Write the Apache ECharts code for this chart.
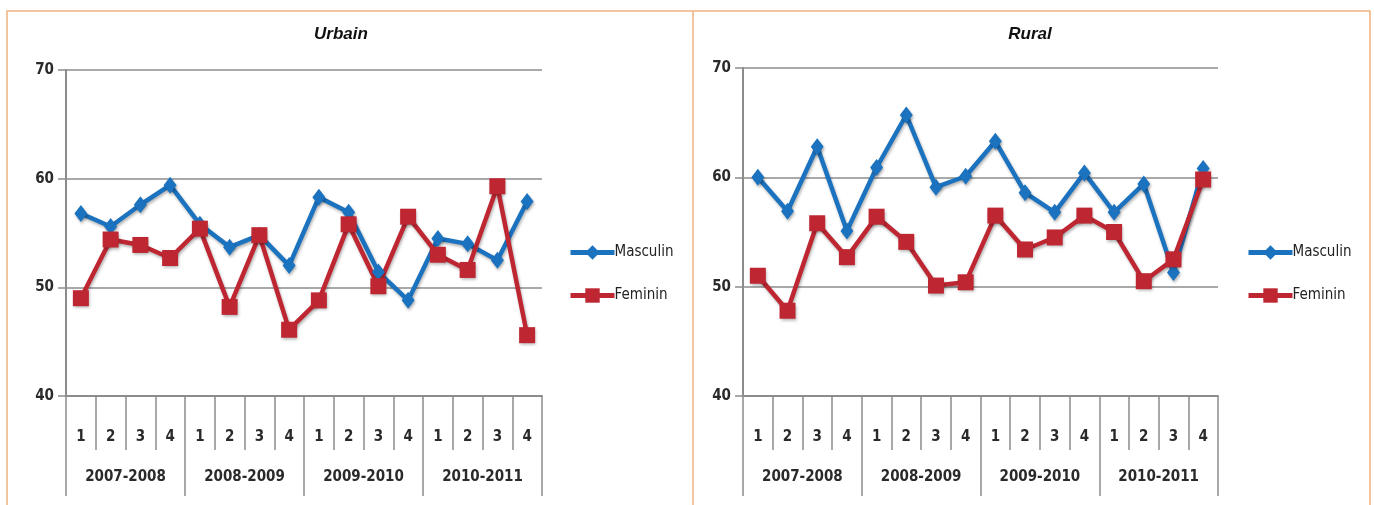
<!doctype html>
<html lang="fr">
<head>
    <meta charset="UTF-8">
    <title>Urbain / Rural</title>
    <style>
        html, body { margin: 0; padding: 0; background: #fff; }
        #chart { width: 1374px; height: 505px; }
    </style>
</head>
<body>
    <div id="chart"></div>

    <script src="https://cdn.jsdelivr.net/npm/echarts@6/dist/echarts.min.js"></script>
    <script>
        // data
        var quarters = ['1', '2', '3', '4', '1', '2', '3', '4', '1', '2', '3', '4', '1', '2', '3', '4'];
        var years = ['2007-2008', '2008-2009', '2009-2010', '2010-2011'];

        var urbainMasculin = [56.8, 55.6, 57.6, 59.4, 55.8, 53.7, 54.8, 52.0, 58.3, 56.9, 51.4, 48.8, 54.5, 54.0, 52.5, 57.9];
        var urbainFeminin  = [49.0, 54.4, 53.9, 52.7, 55.4, 48.2, 54.8, 46.1, 48.8, 55.8, 50.1, 56.5, 53.0, 51.6, 59.3, 45.6];

        var ruralMasculin = [60.0, 56.9, 62.8, 55.1, 60.9, 65.7, 59.1, 60.1, 63.3, 58.6, 56.8, 60.4, 56.8, 59.4, 51.3, 60.8];
        var ruralFeminin  = [51.0, 47.8, 55.8, 52.7, 56.4, 54.1, 50.1, 50.4, 56.5, 53.4, 54.5, 56.5, 55.0, 50.5, 52.5, 59.8];

        var blue = '#1b72bf';
        var red = '#be2632';
        var gray = '#8c8c8c';
        var labelFont = "'DejaVu Sans Condensed', 'Liberation Sans', sans-serif";

        var chart = echarts.init(document.getElementById('chart'));

        function qAxis(grid) {
            return {
                type: 'category', gridIndex: grid, data: quarters, position: 'bottom',
                axisLine: { show: true, lineStyle: { color: gray, width: 2 } },
                axisTick: { show: true, alignWithLabel: false, interval: 0, length: 54, lineStyle: { color: gray, width: 1.5 } },
                axisLabel: { interval: 0, margin: 34, fontSize: 15, fontWeight: 'bold', color: '#2a2a2a', fontFamily: labelFont }
            };
        }
        function yearAxis(grid) {
            return {
                type: 'category', gridIndex: grid, data: years, position: 'bottom',
                axisLine: { show: false },
                axisTick: { show: true, alignWithLabel: false, interval: 0, length: 100, lineStyle: { color: gray, width: 1.5 } },
                axisLabel: { interval: 0, margin: 74, fontSize: 15, fontWeight: 'bold', color: '#2a2a2a', fontFamily: labelFont }
            };
        }
        function valAxis(grid) {
            return {
                type: 'value', gridIndex: grid, min: 40, max: 70, interval: 10,
                axisLine: { show: true, lineStyle: { color: gray, width: 2 } },
                axisTick: { show: true, length: 8, lineStyle: { color: gray, width: 1.5 } },
                splitLine: { lineStyle: { color: gray, width: 1.5 } },
                axisLabel: { margin: 12, fontSize: 15, fontWeight: 'bold', color: '#2a2a2a', fontFamily: labelFont }
            };
        }
        function line(name, data, grid, color, symbol, size) {
            return {
                name: name, type: 'line', xAxisIndex: grid * 2, yAxisIndex: grid,
                data: data, symbol: symbol, symbolSize: size,
                lineStyle: { color: color, width: 4.5, shadowColor: 'rgba(0,0,0,0.3)', shadowBlur: 3, shadowOffsetX: 1, shadowOffsetY: 2 },
                itemStyle: { color: color, shadowColor: 'rgba(0,0,0,0.3)', shadowBlur: 3, shadowOffsetX: 1, shadowOffsetY: 2 },
                emphasis: { disabled: true }
            };
        }
        function legend(left) {
            return {
                left: left, top: 240, orient: 'vertical', itemWidth: 44, itemHeight: 18, itemGap: 28,
                data: ['Masculin', 'Feminin'],
                lineStyle: { width: 5 },
                textStyle: { fontSize: 15, color: '#222', fontFamily: labelFont, padding: [0, 0, 0, -5] }
            };
        }

        var option = {
            animation: false,
            title: [
                { text: 'Urbain', left: 336, top: 21, textAlign: 'center',
                  textStyle: { fontSize: 17, fontWeight: 'bold', fontStyle: 'italic', color: '#111', fontFamily: 'Liberation Sans' } },
                { text: 'Rural', left: 1025, top: 21, textAlign: 'center',
                  textStyle: { fontSize: 17, fontWeight: 'bold', fontStyle: 'italic', color: '#111', fontFamily: 'Liberation Sans' } }
            ],
            graphic: [
                { type: 'rect', shape: { x: 7, y: 11, width: 1363, height: 510 }, style: { fill: 'none', stroke: '#efb27f', lineWidth: 1.5 }, silent: true },
                { type: 'line', shape: { x1: 693, y1: 11, x2: 693, y2: 505 }, style: { stroke: '#efb27f', lineWidth: 1.5 }, silent: true }
            ],
            legend: [legend(563), legend(1241)],
            grid: [
                { left: 66, top: 70, width: 476, height: 326 },
                { left: 743, top: 68, width: 475, height: 328 }
            ],
            xAxis: [qAxis(0), yearAxis(0), qAxis(1), yearAxis(1)],
            yAxis: [valAxis(0), valAxis(1)],
            series: [
                line('Masculin', urbainMasculin, 0, blue, 'diamond', [13, 17]),
                line('Feminin', urbainFeminin, 0, red, 'rect', 16),
                line('Masculin', ruralMasculin, 1, blue, 'diamond', [13, 17]),
                line('Feminin', ruralFeminin, 1, red, 'rect', 16)
            ]
        };

        chart.setOption(option);
    </script>
</body>
</html>
